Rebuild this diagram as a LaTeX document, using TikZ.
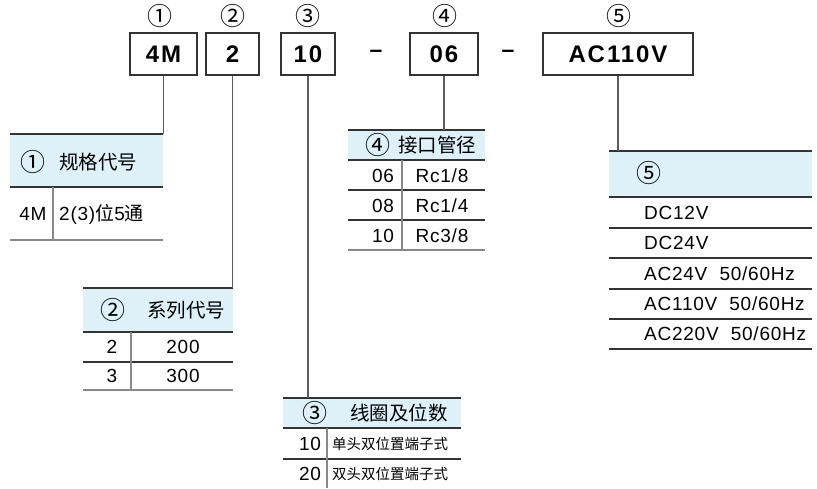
\documentclass[tikz,border=0pt]{standalone}
\usepackage{fontspec}
\setmainfont{Liberation Sans}
\newfontfamily\cjk{Noto Sans CJK SC}
\newfontfamily\boxfont[LetterSpace=8]{Liberation Sans}
\newfontfamily\cellfont[LetterSpace=4]{Liberation Sans}
\usetikzlibrary{positioning}
\definecolor{headblue}{HTML}{DEF1F9}
\definecolor{darkrule}{HTML}{333333}
\definecolor{lightrule}{HTML}{888888}

\begin{document}
\begin{tikzpicture}[x=1pt, y=-1pt,
    codebox/.style={draw=darkrule, line width=1.3pt, minimum height=42pt, inner sep=0pt,
                    font=\boxfont\fontsize{24}{26}\selectfont\bfseries},
    circnum/.style={inner sep=0pt, font=\cjk\fontsize{25}{26}\selectfont},
    headtxt/.style={inner sep=0pt, font=\cjk\fontsize{19.5}{22}\selectfont},
    cell/.style={inner sep=0pt, font=\cellfont\fontsize{19}{22}\selectfont},
    smallcell/.style={inner sep=0pt, font=\cjk\fontsize{14.5}{16}\selectfont},
    topline/.style={darkrule, line width=1.2pt},
    headline/.style={darkrule, line width=1.6pt},
    rowline/.style={darkrule, line width=1.1pt},
    endline/.style={lightrule, line width=1.2pt},
    divider/.style={lightrule, line width=1.1pt},
    leader/.style={darkrule!80, line width=1.1pt}]
\useasboundingbox (0,0) rectangle (817,488);

% code boxes
\node[codebox, minimum width=67pt] (b1) at (163.5,54) {4M};
\node[codebox, minimum width=53pt] (b2) at (232.5,54) {2};
\node[codebox, minimum width=54pt] (b3) at (308,54) {10};
\node[codebox, minimum width=68pt] (b4) at (444,54) {06};
\node[codebox, minimum width=150pt] (b5) at (618,54) {AC110V};
\node[inner sep=0pt, font=\fontsize{23}{24}\selectfont\bfseries] (d1) at (376,54) {--};
\node[inner sep=0pt, font=\fontsize{23}{24}\selectfont\bfseries] (d2) at (508,54) {--};

\node[circnum] (n1) at (160,16) {①};
\node[circnum] (n2) at (233,16) {②};
\node[circnum] (n3) at (308,16) {③};
\node[circnum] (n4) at (445,16) {④};
\node[circnum] (n5) at (619,16) {⑤};

% table 1
\fill[headblue] (10,134) rectangle (163,187);
\draw[topline] (10,134) -- (163,134);
\draw[headline] (10,187) -- (163,187);
\draw[endline] (10,240) -- (163,240);
\draw[divider] (53,187) -- (53,240);
\coordinate (t1) at (163,134);
\node[circnum] (h1n) at (33,162) {①};
\node[headtxt, anchor=west] (h1t) at (59,162) {规格代号};
\node[cell] (c11) at (33,214) {4M};
\node[cell, anchor=west] (c12) at (59,214) {2(3){\cjk 位}5{\cjk 通}};

% table 2
\fill[headblue] (83,288) rectangle (233,332);
\draw[topline] (83,288) -- (233,288);
\draw[headline] (83,332) -- (233,332);
\draw[rowline] (83,362) -- (233,362);
\draw[endline] (83,390) -- (233,390);
\draw[divider] (131,332) -- (131,390);
\coordinate (t2) at (233,288);
\node[circnum] (h2n) at (113,310) {②};
\node[headtxt, anchor=west] (h2t) at (147,310) {系列代号};
\node[cell] (c21) at (112,347) {2};
\node[cell] (c22) at (183,347) {200};
\node[cell] (c31) at (112,376) {3};
\node[cell] (c32) at (183,376) {300};

% table 3
\fill[headblue] (283,398) rectangle (461,428);
\draw[topline] (283,398) -- (461,398);
\draw[headline] (283,428) -- (461,428);
\draw[rowline] (283,459) -- (461,459);
\draw[divider] (327,428) -- (327,488);
\coordinate (t3) at (308,398);
\node[circnum] (h3n) at (315,413) {③};
\node[headtxt, anchor=west] (h3t) at (350,413) {线圈及位数};
\node[cell] (c41) at (310,444) {10};
\node[smallcell, anchor=west] (c42) at (332,444) {单头双位置端子式};
\node[cell] (c51) at (310,474) {20};
\node[smallcell, anchor=west] (c52) at (332,474) {双头双位置端子式};

% table 4
\fill[headblue] (348,130) rectangle (485,160);
\draw[topline] (348,130) -- (485,130);
\draw[headline] (348,160) -- (485,160);
\draw[rowline] (348,190) -- (485,190);
\draw[rowline] (348,220) -- (485,220);
\draw[endline] (348,250) -- (485,250);
\draw[divider] (402,160) -- (402,250);
\coordinate (t4) at (443,130);
\node[circnum] (h4n) at (378,145) {④};
\node[headtxt, anchor=west] (h4t) at (398,145) {接口管径};
\node[cell] (c61) at (383,176) {06};
\node[cell] (c62) at (442,176) {Rc1/8};
\node[cell] (c71) at (383,206) {08};
\node[cell] (c72) at (442,206) {Rc1/4};
\node[cell] (c81) at (383,236) {10};
\node[cell] (c82) at (442,236) {Rc3/8};

% table 5
\fill[headblue] (609,151) rectangle (812,197);
\draw[topline] (609,151) -- (812,151);
\draw[headline] (609,197) -- (812,197);
\foreach \y in {228,258,289,319,349}
  \draw[rowline] (609,\y) -- (812,\y);
\coordinate (t5) at (618,151);
\node[circnum] (h5n) at (649,173) {⑤};
\node[cell, anchor=west] (c91) at (644,213) {DC12V};
\node[cell, anchor=west] (c92) at (644,243) {DC24V};
\node[cell, anchor=west] (c93) at (644,274) {AC24V\ \ 50/60Hz};
\node[cell, anchor=west] (c94) at (644,304) {AC110V\ \ 50/60Hz};
\node[cell, anchor=west] (c95) at (644,334) {AC220V\ \ 50/60Hz};

% leaders
\draw[leader] (b1.south) -- (b1.south |- t1);
\draw[leader] (b2.south) -- (b2.south |- t2);
\draw[leader] (b3.south) -- (t3);
\draw[leader] (b4.south) -- (b4.south |- t4);
\draw[leader] (b5.south) -- (t5);
\end{tikzpicture}
\end{document}
